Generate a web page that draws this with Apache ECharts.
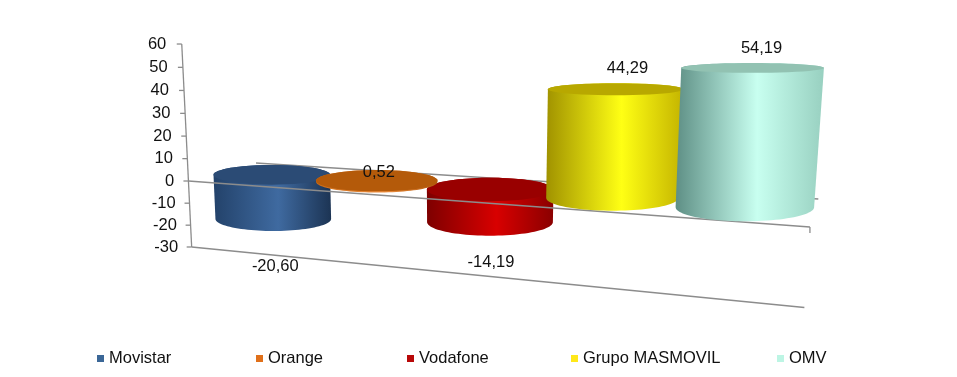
<!DOCTYPE html>
<html>
<head>
<meta charset="utf-8">
<style>
	html, body { margin: 0; padding: 0; background: #fff; }
	#chart { width: 957px; height: 377px; }
</style>
<script src="https://cdn.jsdelivr.net/npm/echarts@6/dist/echarts.min.js"></script>
</head>
<body>
<div id="chart"></div>
<script>
var categories = ['Movistar', 'Orange', 'Vodafone', 'Grupo MASMOVIL', 'OMV'];
var values = [-20.60, 0.52, -14.19, 44.29, 54.19];
var yTicks = [60, 50, 40, 30, 20, 10, 0, -10, -20, -30];

// colours
var legendColors = ['#3B6797', '#E0701A', '#B80808', '#FFE81A', '#BDF5E4'];
var capColors = ['#2B4B75', '#B45A0A', '#990000', '#B8A800', '#92C2B2'];
var sideColors = [
	['#23426A', '#3F6AA0', '#1C3454'],
	['#C86A18', '#F09040', '#B05A10'],
	['#7E0000', '#D80000', '#8A0000'],
	['#A09200', '#FFFF14', '#C4B400'],
	['#5E8F85', '#C8FFF0', '#98D0C0']
];

// layout
var zOrder = [2, 3, 2, 5, 6];
var barNudge = [0, 3, 5, 5, 3];
var labelShift = [[2, 48], [2, -8], [1, 40], [12, -21], [9, -19]];
var legendLeft = [97, 256, 407, 571, 777];
var gridLeft = 187, gridTop = 44, gridWidth = 623, gridHeight = 203;
var yMin = -30, yMax = 60;
var radiusT = 0.5;
var fontName = '"Liberation Sans", Arial, sans-serif';

// the 3d look: grid pixels + depth t (0 back, 1 front) to screen
function project(px, py, t) {
	var s = (px - gridLeft) / gridWidth;
	var v = yMax - (py - gridTop) / gridHeight * (yMax - yMin);
	var d = 1 - 0.1964 * s - 0.09786 * t - 0.000371 * v;
	return [
		(401.6 * s - 86 * t + 256 - 0.168 * v) / d,
		(-3.08 * s + 0.29 * t + 163 - 2.076 * (1 - 0.033 * s) * v) / d
	];
}

// level ellipse of a cylinder end, not sheared by the depth axis
function ring(px, py, nudge, from, to) {
	var s = (px - gridLeft) / gridWidth;
	var rad = (0.119 - 0.026 * s) * gridWidth;
	var mid = project(px, py, 0.5);
	var right = project(px + rad, py, 0.5);
	var front = project(px, py, 0.5 + radiusT);
	var pts = [];
	for (var a = 0; a <= 48; a++) {
		var th = from + (to - from) * a / 48;
		pts.push([
			mid[0] + nudge + (right[0] - mid[0]) * Math.cos(th),
			mid[1] + (front[1] - mid[1]) * Math.sin(th)
		]);
	}
	return pts;
}

function fmt(v) {
	return v.toFixed(2).replace('.', ',');
}

function cylinder(idx) {
	return function (params, api) {
		var val = api.value(1);
		var nudge = barNudge[idx];
		var top = api.coord([idx, Math.max(val, 0)]);
		var bottom = api.coord([idx, Math.min(val, 0)]);
		var cap = ring(top[0], top[1], nudge, 0, Math.PI * 2);
		var side = ring(bottom[0], bottom[1], nudge, 0, Math.PI).concat(ring(top[0], top[1], nudge, Math.PI, Math.PI * 2));
		var xs = side.map(function (p) { return p[0]; });
		var x0 = Math.min.apply(null, xs), x1 = Math.max.apply(null, xs);
		var c = sideColors[idx];
		var grad = new echarts.graphic.LinearGradient(x0, 0, x1, 0, [
			{ offset: 0, color: c[0] },
			{ offset: 0.55, color: c[1] },
			{ offset: 1, color: c[2] }
		], true);
		var anchor = project(top[0], val >= 0 ? top[1] : bottom[1], 0.5);
		return {
			type: 'group',
			children: [
				{ type: 'polygon', shape: { points: side }, style: { fill: grad } },
				{ type: 'polygon', shape: { points: cap }, style: { fill: capColors[idx] } },
				{
					type: 'text',
					style: {
						x: anchor[0] + nudge + labelShift[idx][0],
						y: anchor[1] + labelShift[idx][1],
						text: fmt(val),
						fill: '#111',
						font: '16.5px ' + fontName,
						align: 'center',
						verticalAlign: 'middle'
					}
				}
			]
		};
	};
}

function segment(a, b) {
	return {
		type: 'line',
		shape: { x1: a[0], y1: a[1], x2: b[0], y2: b[1] },
		style: { stroke: '#8c8c8c', lineWidth: 1.3 }
	};
}

// axis lines, ticks and tick labels behind the cylinders
function frameBack(params, api) {
	var l0 = api.coord([0, 0])[0] - gridWidth * 0.1;
	var r0 = l0 + gridWidth;
	var kids = [];
	var y0 = api.coord([0, 0])[1];
	var yB = api.coord([0, yMin])[1];
	var yT = api.coord([0, yMax])[1];
	kids.push(segment(project(l0, y0, 0), project(r0, y0, 0)));
	kids.push(segment(project(l0, yT, 1), project(l0, yB, 1)));
	kids.push(segment(project(l0, yB, 1), project(r0, yB, 1)));
	yTicks.forEach(function (tick) {
		var p = project(l0, api.coord([0, tick])[1], 1);
		kids.push(segment([p[0] - 5, p[1]], p));
		kids.push({
			type: 'text',
			style: {
				x: p[0] - 15.5 + 2 * (yMax - tick) / (yMax - yMin),
				y: p[1],
				text: String(tick),
				fill: '#111',
				font: '16.5px ' + fontName,
				align: 'right',
				verticalAlign: 'middle'
			}
		});
	});
	return { type: 'group', children: kids };
}

// the front zero line runs over the bars below zero and under those above it
function frameZero(params, api) {
	var l0 = api.coord([0, 0])[0] - gridWidth * 0.1;
	var r0 = l0 + gridWidth;
	var y0 = api.coord([0, 0])[1];
	var end = project(r0, y0, 1);
	return {
		type: 'group',
		children: [
			segment(project(l0, y0, 1), end),
			segment(end, [end[0], end[1] + 6])
		]
	};
}

var series = categories.map(function (name, i) {
	return {
		name: name,
		type: 'custom',
		z: zOrder[i],
		clip: false,
		silent: true,
		itemStyle: { color: legendColors[i] },
		encode: { x: 0, y: 1 },
		data: [[i, values[i]]],
		renderItem: cylinder(i)
	};
});
series.push({ type: 'custom', z: 1, silent: true, clip: false, data: [[0, 0]], renderItem: frameBack });
series.push({ type: 'custom', z: 4, silent: true, clip: false, data: [[0, 0]], renderItem: frameZero });

var chartDom = document.getElementById('chart');
var myChart = echarts.init(chartDom);
var option = {
	animation: false,
	backgroundColor: '#fff',
	grid: { left: gridLeft, top: gridTop, width: gridWidth, height: gridHeight },
	xAxis: { type: 'category', data: categories, show: false },
	yAxis: { type: 'value', min: yMin, max: yMax, interval: 10, show: false },
	legend: categories.map(function (name, i) {
		return {
			data: [name],
			left: legendLeft[i],
			top: 350,
			padding: 0,
			icon: 'rect',
			itemWidth: 7,
			itemHeight: 7,
			selectedMode: false,
			textStyle: { fontFamily: fontName, fontSize: 16.5, color: '#111' }
		};
	}),
	series: series
};
myChart.setOption(option);
</script>
</body>
</html>
